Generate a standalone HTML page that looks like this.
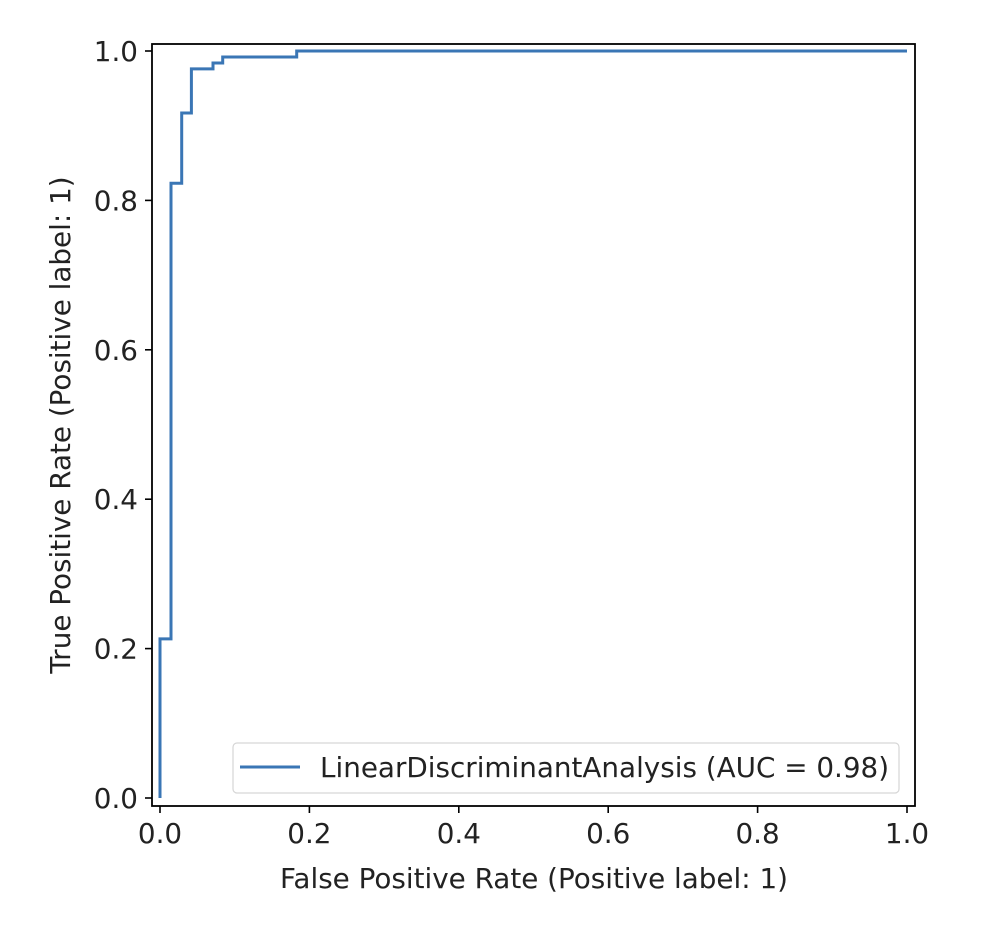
<!DOCTYPE html>
<html><head><meta charset="utf-8"><style>
html,body{margin:0;padding:0;background:#fff;}
svg text{font-family:"DejaVu Sans","Liberation Sans",sans-serif;fill:#222;}
</style></head><body>
<svg id="chart" width="982" height="932" viewBox="0 0 982 932" xmlns="http://www.w3.org/2000/svg">
<rect width="982" height="932" fill="#fff"/>
<g id="plot"></g>
</svg>
<script>
const fprValues=[0,0,0.0147,0.0147,0.029,0.029,0.042,0.042,0.071,0.071,0.084,0.084,0.183,0.183,1.0];
const tprValues=[0,0.213,0.213,0.823,0.823,0.917,0.917,0.976,0.976,0.984,0.984,0.992,0.992,1.0,1.0];
const xTicks=[0,0.2,0.4,0.6,0.8,1.0];
const yTicks=[0,0.2,0.4,0.6,0.8,1.0];
const xTickLabels=["0.0","0.2","0.4","0.6","0.8","1.0"];
const yTickLabels=["0.0","0.2","0.4","0.6","0.8","1.0"];
const legendLabel="LinearDiscriminantAnalysis (AUC = 0.98)";

const NS="http://www.w3.org/2000/svg";
const g=document.getElementById('plot');
const L=152,R=915,T=44,B=806;
const FS=27.8;
function sx(v){return 160+v*747;}
function sy(v){return 798-v*747;}
function mk(tag,attrs,parent){const e=document.createElementNS(NS,tag);for(const k in attrs)e.setAttribute(k,attrs[k]);(parent||g).appendChild(e);return e;}

let d='';
for(let i=0;i<fprValues.length;i++){d+=(i?'L':'M')+sx(fprValues[i]).toFixed(1)+','+sy(tprValues[i]).toFixed(1);}
const curve=mk('path',{d:d,fill:'none',stroke:'#3a76b5','stroke-width':3,'stroke-linejoin':'miter'});



const frame=mk('rect',{x:L,y:T,width:R-L,height:B-T,fill:'none',stroke:'#000','stroke-width':1.8});



xTicks.forEach((v,i)=>{
  const x=sx(v);
  const t=mk('line',{x1:x,y1:B,x2:x,y2:B+7,stroke:'#000','stroke-width':1.6});
  
  
  const tx=mk('text',{x:x,y:B+37,'text-anchor':'middle','font-size':FS});
  tx.textContent=xTickLabels[i];
  
  
});
yTicks.forEach((v,i)=>{
  const y=sy(v);
  const t=mk('line',{x1:L-7,y1:y,x2:L,y2:y,stroke:'#000','stroke-width':1.6});
  
  
  const tx=mk('text',{x:L-14,y:y+10,'text-anchor':'end','font-size':FS});
  tx.textContent=yTickLabels[i];
  
  
});
const xt=mk('text',{x:534,y:888,'text-anchor':'middle','font-size':FS});
xt.textContent='False Positive Rate (Positive label: 1)';


const yt=mk('text',{x:0,y:0,'text-anchor':'middle','font-size':FS,transform:'translate(70,425) rotate(-90)'});
yt.textContent='True Positive Rate (Positive label: 1)';



const lg=mk('g',{});


mk('rect',{x:233,y:743,width:666,height:50,rx:4,fill:'#fff','fill-opacity':0.8,stroke:'#d6d6d6','stroke-width':1.2},lg);
const ll=mk('line',{x1:240,y1:767,x2:300,y2:767,stroke:'#3a76b5','stroke-width':3},lg);


const lt=mk('text',{x:320,y:777,'font-size':FS},lg);
lt.textContent=legendLabel;


</script>
</body></html>
